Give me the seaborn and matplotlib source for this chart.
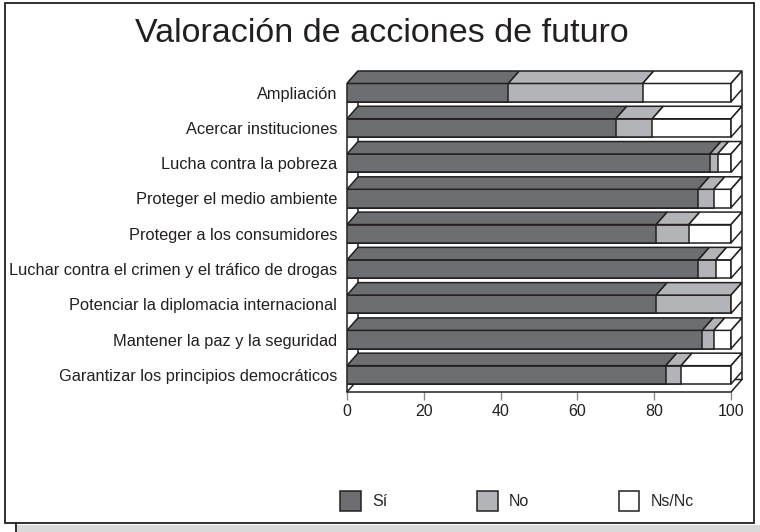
import matplotlib
matplotlib.use('Agg')
import numpy as np
import matplotlib.pyplot as plt
from matplotlib.patches import Polygon, Rectangle, Patch
from matplotlib.lines import Line2D
import seaborn as sns

# data (percent)
categories = ['Ampliación', 'Acercar instituciones', 'Lucha contra la pobreza',
              'Proteger el medio ambiente', 'Proteger a los consumidores',
              'Luchar contra el crimen y el tráfico de drogas',
              'Potenciar la diplomacia internacional',
              'Mantener la paz y la seguridad',
              'Garantizar los principios democráticos']
si = [42, 70, 94.5, 91.5, 80.5, 91.5, 80.5, 92.5, 83]
no = [35, 9.5, 2, 4, 8.5, 4.5, 19.5, 3, 4]
nsnc = [23, 20.5, 3.5, 4.5, 11, 4, 0, 4.5, 13]
series = ['Sí', 'No', 'Ns/Nc']
colors = ['#6d6e71', '#b2b4b7', '#ffffff']
edge = '#231f20'

sns.set_style('white')
plt.rcParams['font.family'] = ['Liberation Sans', 'DejaVu Sans']

fig = plt.figure(figsize=(7.6, 5.32), dpi=100)
ax = fig.add_axes([347/760, 1 - 392/532, 395/760, 321/532])

bar_h = 0.52   # front face height (category units)
dx = 2.86      # 3d depth, x units
dy = 0.354     # 3d depth, category units
n = len(categories)
top_lim = -bar_h/2 - dy
floor_front = (n - 1) + bar_h/2 + 0.227
floor_back = floor_front - dy

si_a = np.array(si, dtype=float)
no_a = np.array(no, dtype=float)
ns_a = np.array(nsnc, dtype=float)
cum = [si_a + no_a + ns_a, si_a + no_a, si_a]

# front faces: layered stacked bars
for vals, col in zip(cum, colors[::-1]):
    sns.barplot(x=vals, y=categories, color=col, edgecolor=edge, linewidth=1.1,
                width=bar_h, saturation=1, ax=ax, zorder=3)

# top and side faces for the 3d look
segs = [si_a, no_a, ns_a]
for i in range(n):
    t = i - bar_h/2
    b = i + bar_h/2
    left = 0.0
    for vals, col in zip(segs, colors):
        w = vals[i]
        if w > 0:
            ax.add_patch(Polygon([(left, t), (left + w, t), (left + w + dx, t - dy), (left + dx, t - dy)],
                                 closed=True, fc=col, ec=edge, lw=1.1, zorder=3))
        left += w
    ax.add_patch(Polygon([(left, t), (left, b), (left + dx, b - dy), (left + dx, t - dy)],
                         closed=True, fc=colors[2], ec=edge, lw=1.1, zorder=3))

# walls and floor
lk = dict(color=edge, lw=1.1, zorder=1, clip_on=False, solid_capstyle='butt')
ax.plot([dx, dx, 100 + dx, 100 + dx], [floor_back, top_lim, top_lim, floor_back], **lk)
ax.plot([0, 0, dx], [floor_front, top_lim + dy, top_lim], **lk)
ax.plot([0, dx, 100 + dx, 100], [floor_front, floor_back, floor_back, floor_front], **lk)

ax.set_xlim(0, 100 + dx)
ax.set_ylim(floor_front, top_lim)
ax.set_xlabel('')
ax.set_ylabel('')
for s in ['top', 'right', 'left']:
    ax.spines[s].set_visible(False)
ax.spines['bottom'].set_bounds(0, 100)
ax.spines['bottom'].set_color(edge)
ax.spines['bottom'].set_linewidth(1.1)
ax.set_xticks(range(0, 101, 20))
ax.tick_params(axis='x', bottom=True, length=6, width=1, color='#8a8a8a',
               labelsize=11.5, labelcolor=edge, pad=3)
ax.tick_params(axis='y', left=False, length=0, pad=7, labelsize=11.8, labelcolor=edge)
ax.patch.set_alpha(0)

fig.text(382/760, 1 - 33/532, 'Valoración de acciones de futuro', ha='center', va='center',
         fontsize=24.5, color=edge)

handles = [Patch(facecolor=c, edgecolor=edge, linewidth=1.1) for c in colors]
fig.legend(handles, series, loc='center', bbox_to_anchor=(517/760, 1 - 501/532), ncol=3,
           frameon=False, fontsize=11.5, handlelength=1.31, handleheight=1.64,
           handletextpad=0.69, columnspacing=5.6)

# outer frame and grey strip at the bottom
fig.add_artist(Rectangle((16/760, 0), 744/760, 7/532, transform=fig.transFigure,
                         fc='#d9d9d9', ec='none'))
fig.add_artist(Line2D([16/760, 16/760], [0, 9/532], transform=fig.transFigure,
                      color=edge, lw=1.3))
fig.add_artist(Rectangle((5/760, 1 - 523/532), 749/760, 520/532, transform=fig.transFigure,
                         fill=False, ec=edge, lw=1.3))

fig.savefig('out.png', dpi=100)
